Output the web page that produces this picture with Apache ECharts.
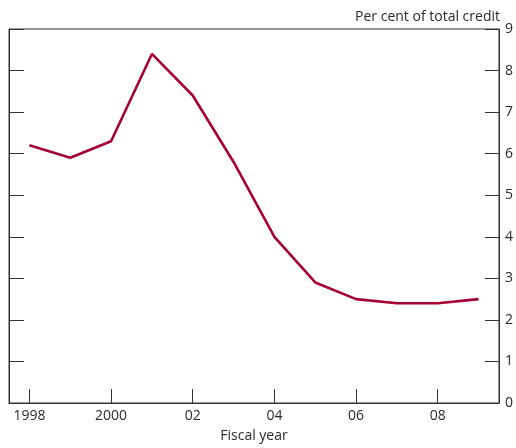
<!DOCTYPE html>
<html>
<head>
<meta charset="utf-8">
<script src="https://cdn.jsdelivr.net/npm/echarts@6/dist/echarts.min.js"></script>
<style>html,body{margin:0;padding:0;background:#fff;}#c{width:516px;height:448px;}</style>
</head>
<body>
<div id="c"></div>
<script>
const categories = ['1998','1999','2000','2001','02','03','04','05','06','07','08','09'];
const values = [6.2, 5.9, 6.3, 8.4, 7.4, 5.8, 4.0, 2.9, 2.5, 2.4, 2.4, 2.5];
const yTicks = [0,1,2,3,4,5,6,7,8,9];
const unitLabel = 'Per cent of total credit';
const xName = 'Fiscal year';

const font = 'Open Sans';
const txt = '#2a2a2a';
const chart = echarts.init(document.getElementById('c'), null, {renderer:'canvas'});
chart.setOption({
  animation: false,
  title: {
    text: unitLabel, right: 11, top: 5,
    textStyle: {fontFamily: font, fontSize: 14, fontWeight: 'normal', color: txt}
  },
  grid: {left: 9, right: 17, top: 29, bottom: 42, show: true, borderColor: '#333', borderWidth: 1},
  xAxis: {
    type: 'category', data: categories, boundaryGap: true,
    name: xName, nameLocation: 'middle', nameGap: 26,
    nameTextStyle: {fontFamily: font, fontSize: 14, color: txt},
    axisLine: {lineStyle: {color: '#333', width: 1}},
    axisTick: {show: true, inside: true, length: 14, alignWithLabel: true, interval: 1, lineStyle: {color: '#333'}},
    axisLabel: {interval: 1, margin: 6, fontFamily: font, fontSize: 14, color: txt}
  },
  yAxis: [{
    type: 'value', position: 'right', min: yTicks[0], max: yTicks[yTicks.length-1], interval: 1,
    splitLine: {show: false},
    axisLine: {show: true, lineStyle: {color: '#333', width: 1}},
    axisTick: {show: true, inside: true, length: 14, lineStyle: {color: '#333'}},
    axisLabel: {margin: 6, fontFamily: font, fontSize: 14, color: txt}
  }, {
    type: 'value', position: 'left', min: yTicks[0], max: yTicks[yTicks.length-1], interval: 1,
    splitLine: {show: false},
    axisLine: {show: true, lineStyle: {color: '#333', width: 1}},
    axisTick: {show: true, inside: true, length: 15, lineStyle: {color: '#333'}},
    axisLabel: {show: false}
  }],
  series: [{
    type: 'line', data: values, yAxisIndex: 0,
    showSymbol: false, symbol: 'none',
    lineStyle: {color: '#A50034', width: 2.6}
  }]
});
</script>
</body>
</html>
